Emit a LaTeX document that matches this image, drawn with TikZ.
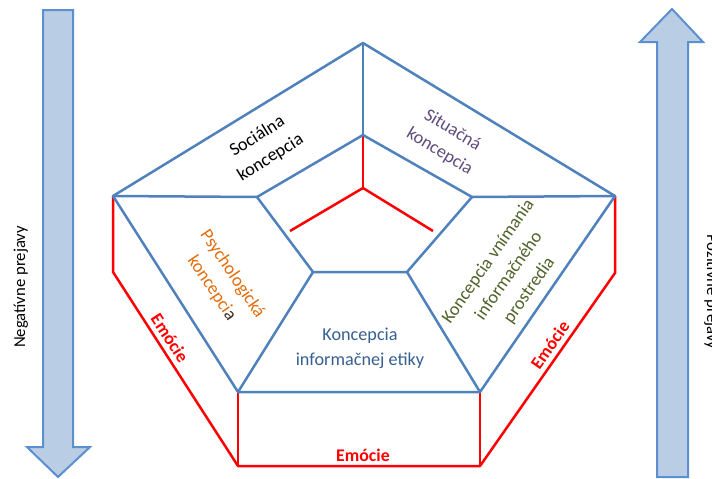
\documentclass[tikz,border=0pt]{standalone}
\usepackage{fontspec}
\setmainfont{Carlito}
\definecolor{lineblue}{HTML}{4F81BD}
\definecolor{linered}{HTML}{FF0000}
\definecolor{arrfill}{HTML}{B9CDE5}
\definecolor{arrdraw}{HTML}{5B8FD0}
\definecolor{txtpurple}{HTML}{604A7B}
\definecolor{txtorange}{HTML}{E46C0A}
\definecolor{txtgreen}{HTML}{4F6228}
\definecolor{txtblue}{HTML}{365F91}
\definecolor{darka}{HTML}{3B2A1A}
\begin{document}
\begin{tikzpicture}[x=1pt,y=-1pt,
  bl/.style={draw=lineblue,line width=2.5pt,line join=round},
  rd/.style={draw=linered,line width=2.5pt,line join=round},
  arr/.style={draw=arrdraw,fill=arrfill,line width=2pt,line join=miter},
  lbl/.style={font=\fontsize{18.2}{25}\selectfont,align=center,inner sep=0pt},
  emo/.style={font=\bfseries\fontsize{17.8}{21}\selectfont,text=linered,inner sep=0pt},
  side/.style={font=\fontsize{16.7}{19}\selectfont,inner sep=0pt}]
\useasboundingbox (0,0) rectangle (712,479);
\clip (0,0) rectangle (712,479);
% vertices
\coordinate (OT) at (363,43);
\coordinate (OL) at (113,196);
\coordinate (OR) at (615,196);
\coordinate (OBL) at (238,392);
\coordinate (OBR) at (480,392);
\coordinate (IT) at (363,135);
\coordinate (IL) at (257,197);
\coordinate (IR) at (472,197);
\coordinate (IBL) at (313,272);
\coordinate (IBR) at (407,272);
\coordinate (C) at (363,188);
\coordinate (RL) at (290,231);
\coordinate (RR) at (433,231);
\coordinate (LL) at (113,272);
\coordinate (LR) at (615,273);
\coordinate (BBL) at (238,466);
\coordinate (BBR) at (480,466);
% arrows
\path[arr] (43,10) -- (73,10) -- (73,447) -- (90,447) -- (58,477) -- (27,447) -- (43,447) -- cycle;
\path[arr] (657,477) -- (688,477) -- (688,42) -- (703,42) -- (672,9) -- (640,42) -- (657,42) -- cycle;
% red lines
\draw[rd] (OL) -- (LL) -- (BBL) -- (BBR) -- (LR) -- (OR);
\draw[rd] (OBL) -- (BBL);
\draw[rd] (OBR) -- (BBR);
\draw[rd] (IT) -- (C);
\draw[rd] (C) -- (RL);
\draw[rd] (C) -- (RR);
% blue lines
\draw[bl] (OT) -- (OR) -- (OBR) -- (OBL) -- (OL) -- cycle;
\draw[bl] (IT) -- (IR) -- (IBR) -- (IBL) -- (IL) -- cycle;
\draw[bl] (OT) -- (IT);
\draw[bl] (OL) -- (IL);
\draw[bl] (OR) -- (IR);
\draw[bl] (OBL) -- (IBL);
\draw[bl] (OBR) -- (IBR);
% texts
\node[side,rotate=90,anchor=base] (neg) at (25,287) {Negatívne prejavy};
\node[side,rotate=-90,anchor=base] (poz) at (707,292) {Pozitívne prejavy};
\node[lbl,rotate=32] (soc) at (264,147) {Sociálna\\koncepcia};
\node[lbl,rotate=-31,text=txtpurple] (sit) at (446,141) {Situačná\\koncepcia};
\node[lbl,rotate=-56,text=txtorange] (psy) at (222,281) {Psychologická\\koncepci\textcolor{darka}{a}};
\node[lbl,rotate=55,text=txtgreen] (vni) at (509,276) {Koncepcia vnímania\\informačného\\prostredia};
\node[lbl,text=txtblue] (eti) at (360,348) {Koncepcia\\informačnej etiky};
\node[emo,rotate=-57] (e1) at (170,338) {Emócie};
\node[emo,rotate=55] (e2) at (550,345) {Emócie};
\node[emo] (e3) at (363,455) {Emócie};
\end{tikzpicture}
\end{document}
